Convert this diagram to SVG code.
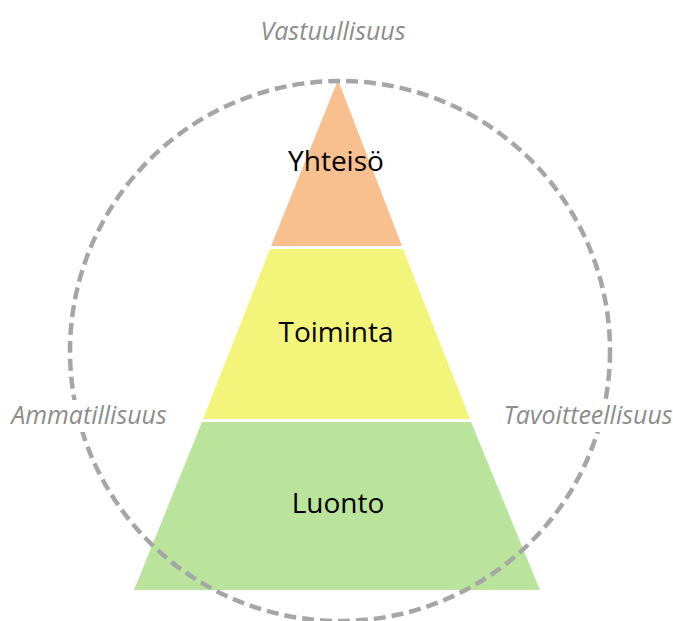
<svg xmlns="http://www.w3.org/2000/svg" width="673" height="621" viewBox="0 0 673 621">
<style>
.lvl{font-family:"Open Sans","Liberation Sans",sans-serif;font-size:28px;fill:#000;text-anchor:middle}
.val{font-family:"Open Sans","Liberation Sans",sans-serif;font-style:italic;font-size:25px;fill:#8c8c8c;text-anchor:middle}
.ring{fill:none;stroke:#a6a6a6;stroke-width:4.5;stroke-dasharray:12 6}
.bg{fill:#fff}
</style>
<rect width="673" height="621" fill="#fff"/>
<g id="yhteiso">
<polygon points="338,80 402,246 271,246" fill="#f8bf8f"/>
<text class="lvl" x="336" y="171">Yhteisö</text>
</g>
<g id="toiminta">
<polygon points="270,249 403,249 470,419 203,419" fill="#f3f57b"/>
<text class="lvl" x="336" y="342">Toiminta</text>
</g>
<g id="luonto">
<polygon points="202,422 471,422 540,590 134,590" fill="#bae49b"/>
<text class="lvl" x="338" y="513">Luonto</text>
</g>
<g id="connectors">
<circle class="ring" cx="340" cy="351" r="270"/>
</g>
<g id="labels">
<text class="val" x="333" y="40">Vastuullisuus</text>
<rect class="bg" x="10" y="400" width="160" height="32"/>
<text class="val" x="89" y="424">Ammatillisuus</text>
<rect class="bg" x="503" y="400" width="170" height="32"/>
<text class="val" x="588" y="424">Tavoitteellisuus</text>
</g>
</svg>
